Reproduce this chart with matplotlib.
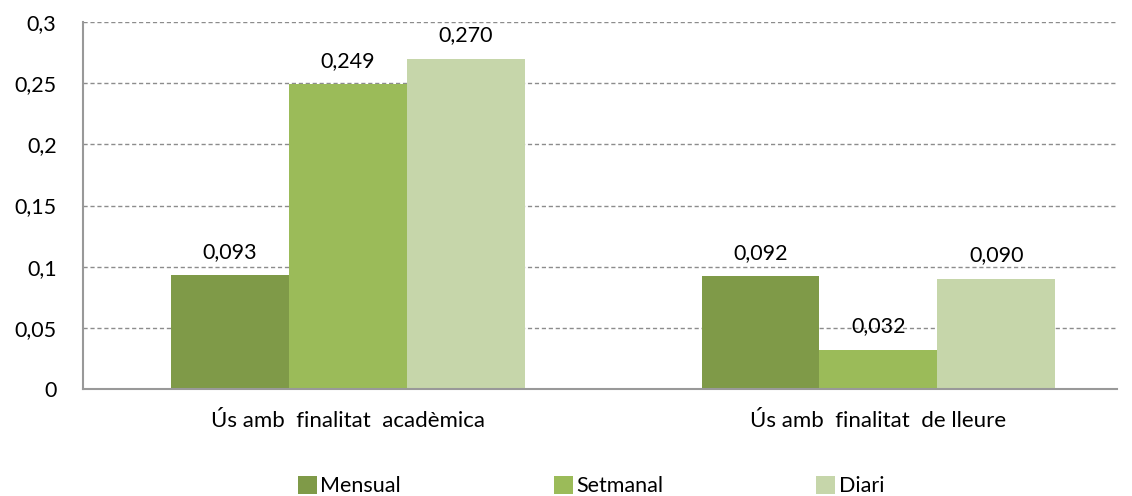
import matplotlib
matplotlib.use("Agg")
import matplotlib.pyplot as plt
from matplotlib.patches import Patch

categories = ["Ús amb  finalitat  acadèmica", "Ús amb  finalitat  de lleure"]
series = ["Mensual", "Setmanal", "Diari"]
mensual = [0.093, 0.092]
setmanal = [0.249, 0.032]
diari = [0.270, 0.090]
labels = [["0,093", "0,092"], ["0,249", "0,032"], ["0,270", "0,090"]]
yticks = [0, 0.05, 0.1, 0.15, 0.2, 0.25, 0.3]
ytick_labels = ["0", "0,05", "0,1", "0,15", "0,2", "0,25", "0,3"]
colors = ["#7F9A48", "#9BBB59", "#C6D6AA"]

plt.rcParams['font.family'] = ['Lato', 'DejaVu Sans']

fig = plt.figure(figsize=(11.32, 4.96), dpi=100)
W, H = 1132, 496
ax = fig.add_axes([83 / W, 1 - 389 / H, (1117 - 83) / W, (389 - 22) / H])

bw = 0.2224
vals = [mensual, setmanal, diari]
x = range(len(categories))
for i, (v, c) in enumerate(zip(vals, colors)):
    xs = [xi + (i - 1) * bw for xi in x]
    ax.bar(xs, v, width=bw, color=c, zorder=2, linewidth=0)
    for xx, yy, lab in zip(xs, v, labels[i]):
        ax.text(xx, yy + 0.011, lab, ha='center', va='bottom', fontsize=15.5, color='#000000')

ax.set_xlim(-0.4995, 1.4496)
ax.set_ylim(0, 0.3)
ax.set_yticks(yticks)
ax.set_yticklabels(ytick_labels, fontsize=15.5)
ax.tick_params(axis='x', length=0, pad=16)
ax.tick_params(axis='y', length=0, pad=19)
ax.set_xticks(list(x))
ax.set_xticklabels(categories, fontsize=16)
ax.yaxis.grid(True, linestyle=(0, (3, 2)), color='#8c8c8c', linewidth=1, zorder=0)
ax.set_axisbelow(True)
for s in ['top', 'right']:
    ax.spines[s].set_visible(False)
ax.spines['left'].set_color('#999999')
ax.spines['bottom'].set_color('#999999')
ax.spines['left'].set_linewidth(1.5)
ax.spines['bottom'].set_linewidth(1.5)

handles = [Patch(facecolor=c, edgecolor='none') for c in colors]
fig.legend(handles, series, loc='center', bbox_to_anchor=(0.522, 1 - 486 / H), ncol=3,
           frameon=False, fontsize=15.5, handlelength=0.9, handleheight=0.9,
           handletextpad=0.15, columnspacing=7.1, borderpad=0)

fig.savefig("out.png", dpi=100)
